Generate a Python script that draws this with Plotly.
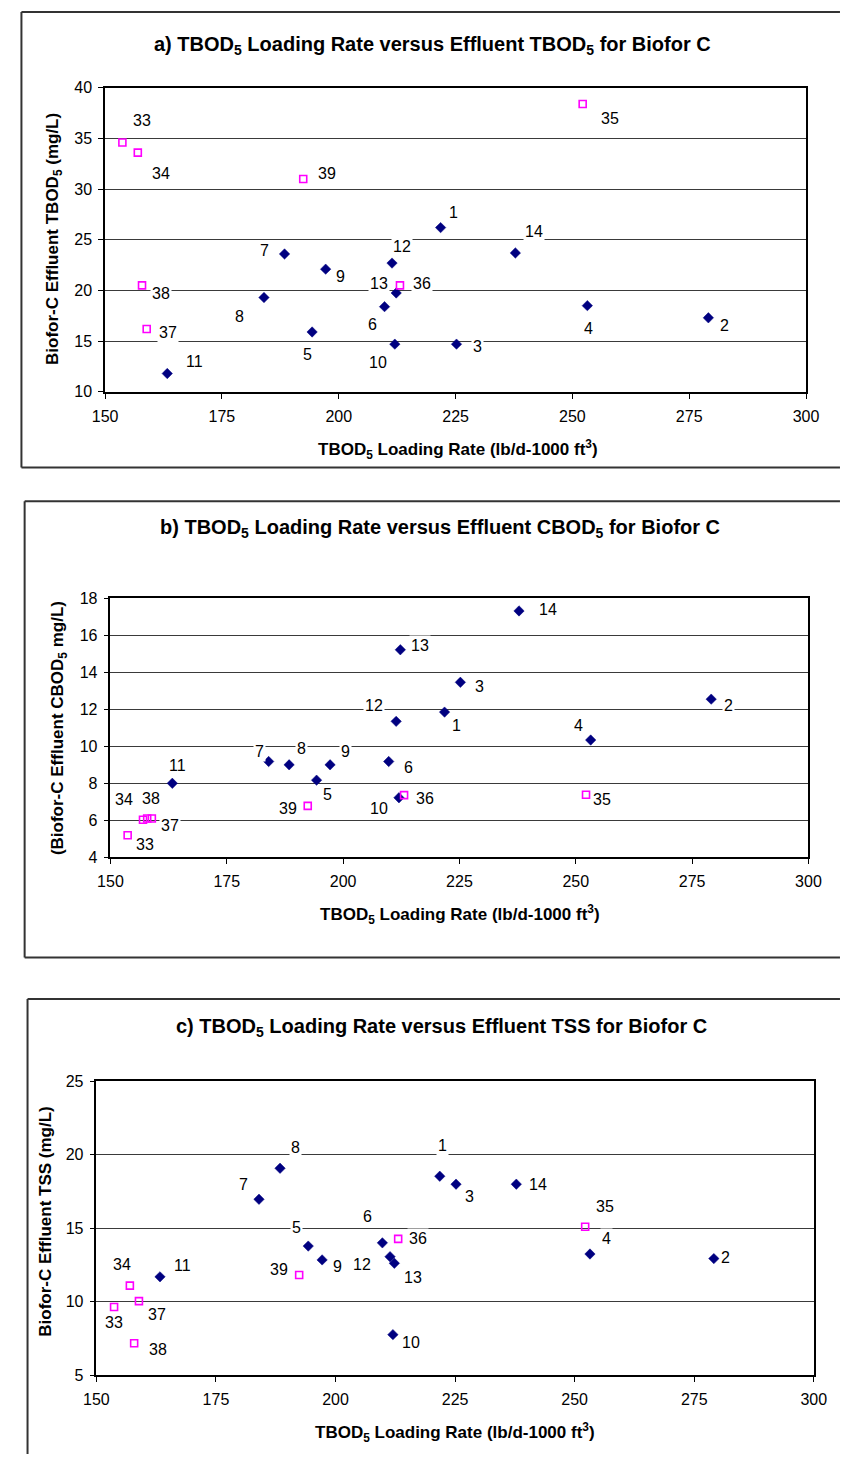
import plotly.graph_objects as go

W, H = 852, 1462

# ---------------- data ----------------
samples_p1 = [1, 2, 3, 4, 5, 6, 7, 8, 9, 10, 11, 12, 13, 14]
samples_p2 = [33, 34, 35, 36, 37, 38, 39]

# TBOD5 loading rate (lb/d-1000 ft3)
load_p1 = [221.8, 279.1, 225.2, 253.2, 194.3, 209.8, 184.0, 188.4, 197.2, 212.0, 163.3, 211.4, 212.3, 237.8]
load_p2 = [153.7, 157.0, 252.2, 213.1, 158.9, 157.9, 192.4]

# a) effluent TBOD5 (mg/L)
tbod_p1 = [26.2, 17.3, 14.7, 18.5, 15.9, 18.4, 19.3, 23.6, 22.1, 14.7, 11.8, 22.7, 19.75, 23.7]
tbod_p2 = [34.6, 33.6, 38.4, 20.5, 16.2, 20.5, 31.0]

# b) effluent CBOD5 (mg/L)
cbod_p1 = [11.85, 12.55, 13.46, 10.34, 8.17, 9.18, 9.18, 9.0, 9.0, 7.22, 8.0, 11.35, 15.22, 17.32]
cbod_p2 = [5.19, 6.03, 7.38, 7.36, 6.1, 6.1, 6.78]

# c) effluent TSS (mg/L)
tss_p1 = [18.53, 12.93, 17.99, 13.24, 13.78, 14.0, 16.96, 19.07, 12.84, 7.76, 11.69, 13.06, 12.61, 17.99]
tss_p2 = [9.64, 11.09, 15.1, 14.27, 10.04, 7.17, 11.81]

x_ticks = [150, 175, 200, 225, 250, 275, 300]

# ---------------- layout geometry (pixels) ----------------
panels = [
    dict(x=(95, 818), y=(80.7, 388.3), yr=(10, 40), dt=5,
         y1=tbod_p1, y2=tbod_p2,
         title="a) TBOD<sub>5</sub> Loading Rate versus Effluent TBOD<sub>5</sub> for Biofor C",
         tpos=(432.5, 38), xtpos=(458.5, 447),
         ytitle="Biofor-C Effluent TBOD<sub>5</sub> (mg/L)", ytpos=(43, 234),
         offs={1: (13, -15), 2: (16, 8), 3: (21, 2), 4: (1, 23), 5: (-5, 23), 6: (-12, 18),
               7: (1, -47), 8: (-45, 63), 9: (15, 7), 10: (-17, 18), 11: (27, -12),
               12: (10, -17), 13: (-17, -9), 14: (19, -21), 33: (20, -22), 34: (23, 21),
               35: (27, 15), 36: (22, -2), 37: (21, 4), 38: (19, 8), 39: (24, -5)}),
    dict(x=(100.5, 820.5), y=(597.3, 859.3), yr=(4, 18), dt=2,
         y1=cbod_p1, y2=cbod_p2,
         title="b) TBOD<sub>5</sub> Loading Rate versus Effluent CBOD<sub>5</sub> for Biofor C",
         tpos=(440, 527), xtpos=(461, 917),
         ytitle="(Biofor-C Effluent CBOD<sub>5</sub> mg/L)", ytpos=(47, 729),
         offs={1: (12, 13), 2: (17, 6), 3: (19, 4), 4: (-12, -15), 5: (11, 14), 6: (20, 6),
               7: (-9, -10), 8: (12, -16), 9: (15, -13), 10: (-20, 11), 11: (5, -18),
               12: (-22, -16), 13: (20, -4), 14: (29, -1), 33: (17, 9), 34: (-19, -20),
               35: (16, 5), 36: (21, 3), 37: (18, 7), 38: (4, -20), 39: (-20, 3)}),
    dict(x=(86, 826), y=(1085.7, 1383.3), yr=(5, 25), dt=5,
         y1=tss_p1, y2=tss_p2,
         title="c) TBOD<sub>5</sub> Loading Rate versus Effluent TSS for Biofor C",
         tpos=(442, 1031), xtpos=(456, 1441),
         ytitle="Biofor-C Effluent TSS (mg/L)", ytpos=(34, 1228),
         offs={1: (3, -31), 2: (12, -1), 3: (13, 12), 4: (17, -16), 5: (-12, -19), 6: (-15, -26),
               7: (-15, -15), 8: (15, -21), 9: (15, 7), 10: (18, 8), 11: (23, -11),
               12: (-28, 8), 13: (19, 14), 14: (22, 0), 33: (0, 16), 34: (-8, -21),
               35: (20, -20), 36: (20, 0), 37: (18, 13), 38: (24, 6), 39: (-20, -6)}),
]

FONT = "Arial, Liberation Sans, sans-serif"

def px(x):
    return x / W

def py(y):
    return 1 - y / H

fig = go.Figure()
layout = dict(width=W, height=H, margin=dict(l=0, r=0, t=0, b=0),
              paper_bgcolor="white", plot_bgcolor="white", showlegend=False)
annotations = []
shapes = []

for i, p in enumerate(panels):
    n = "" if i == 0 else str(i + 1)
    xa, ya = "x" + n, "y" + n
    layout["xaxis" + n] = dict(
        domain=[px(p["x"][0]), px(p["x"][1])], anchor=ya, range=[150, 300],
        tickvals=x_ticks, ticks="outside", ticklen=5, tickcolor="black", tickwidth=1,
        showline=True, linecolor="black", linewidth=1.5, mirror=True,
        showgrid=False, zeroline=False, ticklabelstandoff=4,
        tickfont=dict(family=FONT, size=16, color="black"))
    yt = list(range(p["yr"][0], p["yr"][1] + 1, p["dt"]))
    layout["yaxis" + n] = dict(
        domain=[py(p["y"][1]), py(p["y"][0])], anchor=xa, range=list(p["yr"]),
        tickvals=yt, ticks="outside", ticklen=5, tickcolor="black", tickwidth=1,
        showline=True, linecolor="black", linewidth=1.5, mirror=True,
        showgrid=True, gridcolor="#3a3a3a", gridwidth=1, zeroline=False,
        ticklabelstandoff=3,
        tickfont=dict(family=FONT, size=16, color="black"))

    fig.add_trace(go.Scatter(
        x=load_p1, y=p["y1"], mode="markers", xaxis=xa, yaxis=ya,
        marker=dict(symbol="diamond", size=8, color="#000080",
                    line=dict(width=0.5, color="#000080")),
        cliponaxis=False))
    fig.add_trace(go.Scatter(
        x=load_p2, y=p["y2"], mode="markers", xaxis=xa, yaxis=ya,
        marker=dict(symbol="square-open", size=7, color="#FF00FF",
                    line=dict(width=1.6, color="#FF00FF")),
        cliponaxis=False))

    # data labels (sample numbers)
    for s, xv, yv in list(zip(samples_p1, load_p1, p["y1"])) + list(zip(samples_p2, load_p2, p["y2"])):
        dx, dy = p["offs"][s]
        annotations.append(dict(
            x=xv, y=yv, xref=xa, yref=ya, text=str(s), showarrow=False,
            xshift=dx, yshift=-dy, xanchor="center", yanchor="middle",
            bgcolor="white", borderpad=1,
            font=dict(family=FONT, size=16, color="black")))

    # chart title
    annotations.append(dict(
        x=px(p["tpos"][0]), y=py(p["tpos"][1]), xref="paper", yref="paper",
        text="<b>" + p["title"] + "</b>", showarrow=False,
        xanchor="center", yanchor="middle",
        font=dict(family=FONT, size=20, color="black")))
    # x-axis title
    annotations.append(dict(
        x=px(p["xtpos"][0]), y=py(p["xtpos"][1]), xref="paper", yref="paper",
        text="<b>TBOD<sub>5</sub> Loading Rate (lb/d-1000 ft<sup>3</sup>)</b>",
        showarrow=False, xanchor="center", yanchor="middle",
        font=dict(family=FONT, size=17, color="black")))
    # y-axis title
    annotations.append(dict(
        x=px(p["ytpos"][0]), y=py(p["ytpos"][1]), xref="paper", yref="paper",
        text="<b>" + p["ytitle"] + "</b>", showarrow=False, textangle=-90,
        xanchor="center", yanchor="middle",
        font=dict(family=FONT, size=17, color="black")))

# chart-area frames (cropped at the image edge)
def line(x0, y0, x1, y1):
    shapes.append(dict(type="line", xref="paper", yref="paper",
                       x0=px(x0), y0=py(y0), x1=px(x1), y1=py(y1),
                       line=dict(color="#333333", width=2)))

line(8.7, 4, 8.7, 465)
line(8.7, 4, 853, 4)
line(8.7, 465, 853, 465)
line(12, 499, 12, 960.7)
line(12, 499, 853, 499)
line(12, 960.7, 853, 960.7)
line(15, 1002.7, 15, 1463)
line(15, 1002.7, 853, 1002.7)

layout["annotations"] = annotations
layout["shapes"] = shapes
fig.update_layout(**layout)
fig.write_html("out.html")
